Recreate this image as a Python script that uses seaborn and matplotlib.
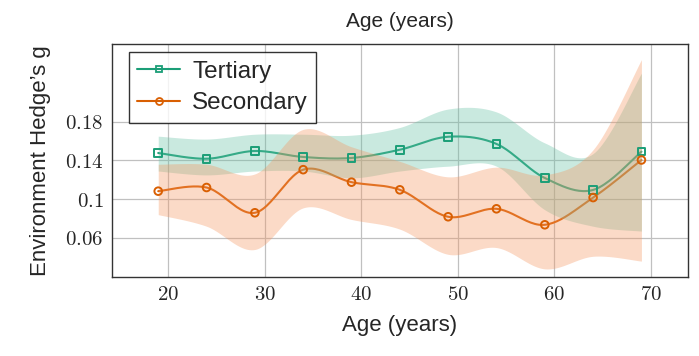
import numpy as np
import pandas as pd
import seaborn as sns
import matplotlib.pyplot as plt

# values
ages = [19, 24, 29, 34, 39, 44, 49, 54, 59, 64, 69]
tertiary = [0.1476, 0.1417, 0.1497, 0.1435, 0.1425, 0.151, 0.1644, 0.157, 0.1218, 0.1095, 0.149]
tertiary_lo = [0.129, 0.125, 0.129, 0.129, 0.122, 0.129, 0.134, 0.134, 0.089, 0.072, 0.067]
tertiary_hi = [0.165, 0.162, 0.167, 0.167, 0.166, 0.174, 0.193, 0.190, 0.158, 0.147, 0.230]
secondary = [0.1082, 0.112, 0.0859, 0.1304, 0.1175, 0.1096, 0.0818, 0.09, 0.0735, 0.1016, 0.1404]
secondary_lo = [0.084, 0.072, 0.048, 0.091, 0.079, 0.069, 0.043, 0.050, 0.028, 0.041, 0.036]
secondary_hi = [0.136, 0.136, 0.126, 0.172, 0.154, 0.139, 0.123, 0.133, 0.125, 0.151, 0.244]
ytick_vals = [0.06, 0.1, 0.14, 0.18]
ytick_labels = ["0.06", "0.1", "0.14", "0.18"]
xtick_vals = [20, 30, 40, 50, 60, 70]


def smooth(x, y, n=24, k=1 / 6):
    # cardinal spline through the points, like pgfplots "smooth"
    p = np.column_stack([x, y]).astype(float)
    out = []
    for i in range(len(p) - 1):
        p0 = p[max(i - 1, 0)]
        p1, p2 = p[i], p[i + 1]
        p3 = p[min(i + 2, len(p) - 1)]
        c1 = p1 + (p2 - p0) * k
        c2 = p2 - (p3 - p1) * k
        t = np.linspace(0, 1, n, endpoint=(i == len(p) - 2))[:, None]
        seg = (1 - t) ** 3 * p1 + 3 * (1 - t) ** 2 * t * c1 + 3 * (1 - t) * t ** 2 * c2 + t ** 3 * p2
        out.append(seg)
    out = np.vstack(out)
    return out[:, 0], out[:, 1]


sns.set_theme(style="whitegrid")
plt.rcParams["font.family"] = ["Liberation Sans", "DejaVu Sans"]
plt.rcParams["mathtext.fontset"] = "cm"

fig = plt.figure(figsize=(6.99, 3.56), dpi=100)
ax = fig.add_axes([0.160, 0.223, 0.824, 0.653])

series = [
    ("Tertiary", tertiary, tertiary_lo, tertiary_hi, "#1b9e77", "#66c2a5", "s"),
    ("Secondary", secondary, secondary_lo, secondary_hi, "#d95f02", "#f5955f", "o"),
]

for name, vals, lo, hi, col, fill, mk in series:
    sx, sy = smooth(ages, vals)
    df = pd.DataFrame({"age": sx, "g": sy})
    sns.lineplot(data=df, x="age", y="g", color=col, lw=1.5, ax=ax, zorder=2, sort=False)
    lx, ly = smooth(ages, lo)
    hx, hy = smooth(ages, hi)
    ax.fill_between(lx, ly, np.interp(lx, hx, hy), color=fill, alpha=0.35, lw=0, zorder=3)

for name, vals, lo, hi, col, fill, mk in series:
    sns.scatterplot(x=ages, y=vals, marker=mk, s=30, facecolor="none", edgecolor=col,
                    linewidth=1.4, ax=ax, zorder=5)
    ax.plot([], [], color=col, marker=mk, mfc="none", mec=col, ms=5, mew=1.3, lw=1.5, label=name)

ax.set_xlim(14.2, 73.8)
ax.set_ylim(0.02, 0.26)
ax.set_xticks(xtick_vals)
ax.set_xticklabels([f"${v}$" for v in xtick_vals], fontsize=15)
ax.set_yticks(ytick_vals)
ax.set_yticklabels([f"${v}$" for v in ytick_labels], fontsize=15)
ax.grid(True, color="#c0c0c0", lw=0.9)
for s in ax.spines.values():
    s.set_color("#333333")
    s.set_linewidth(1.0)
ax.tick_params(length=0, pad=6)

ax.set_xlabel("Age (years)", fontsize=16, labelpad=8)
ax.set_ylabel("Environment Hedge\u2019s g", fontsize=16, labelpad=10)
ax.set_title("Age (years)", fontsize=15, pad=12)

leg = ax.legend(loc="upper left", fontsize=17.5, frameon=True, fancybox=False,
                handlelength=1.75, handletextpad=0.5, borderpad=0.35, labelspacing=0.4,
                borderaxespad=0, bbox_to_anchor=(0.0295, 0.966))
leg.get_frame().set_edgecolor("black")
leg.get_frame().set_linewidth(1.0)
leg.set_zorder(10)

plt.savefig("out.png", dpi=100)
